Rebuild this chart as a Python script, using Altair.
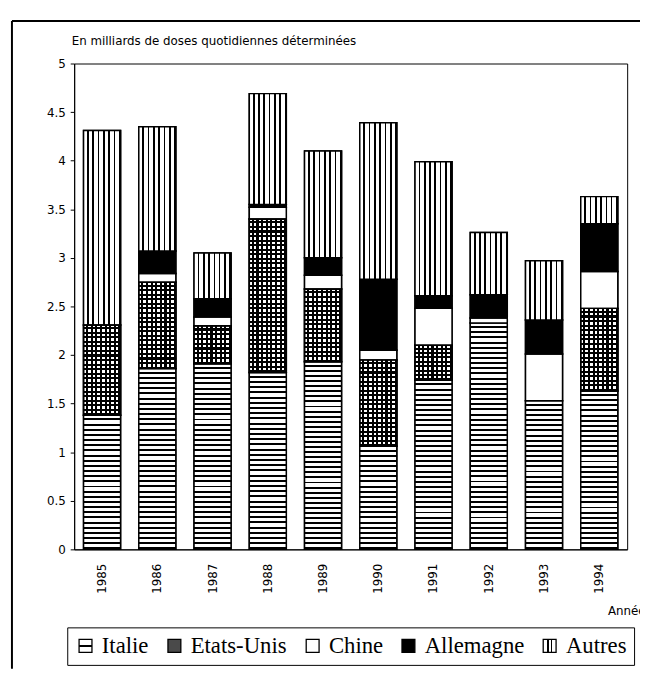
import altair as alt

# ---------------- data ----------------
years = [1985, 1986, 1987, 1988, 1989, 1990, 1991, 1992, 1993, 1994]
series = ["Italie", "Etats-Unis", "Chine", "Allemagne", "Autres"]
italie = [1.38, 1.86, 1.91, 1.82, 1.93, 1.06, 1.74, 2.33, 1.53, 1.63]
etats_unis = [0.93, 0.89, 0.39, 1.58, 0.75, 0.89, 0.36, 0.00, 0.00, 0.85]
chine = [0.00, 0.09, 0.09, 0.12, 0.14, 0.10, 0.38, 0.05, 0.48, 0.38]
allemagne = [0.00, 0.23, 0.19, 0.03, 0.18, 0.73, 0.13, 0.24, 0.35, 0.49]
autres = [2.00, 1.28, 0.47, 1.14, 1.10, 1.61, 1.38, 0.64, 0.61, 0.28]
y_ticks = [0, 0.5, 1, 1.5, 2, 2.5, 3, 3.5, 4, 4.5, 5]

values_by_series = [italie, etats_unis, chine, allemagne, autres]

# ---------------- layout ----------------
W, H = 560, 492
PX_PER_UNIT = H / 5.0


def stripes(n, dark_frac, light, dark, direction):
    stops = []
    for i in range(n):
        a = round(i / n, 5)
        b = round((i + 1 - dark_frac) / n, 5)
        c = round((i + 1) / n, 5)
        stops += [
            {"offset": a, "color": light},
            {"offset": b, "color": light},
            {"offset": b, "color": dark},
            {"offset": c, "color": dark},
        ]
    if direction == "h":  # horizontal lines (gradient runs along y)
        return {"gradient": "linear", "x1": 0.5, "y1": 0, "x2": 0.5, "y2": 1, "stops": stops}
    return {"gradient": "linear", "x1": 0, "y1": 0.5, "x2": 1, "y2": 0.5, "stops": stops}


records = []
for i, yr in enumerate(years):
    base = 0.0
    for s, vals in zip(series, values_by_series):
        v = vals[i]
        if v <= 0:
            continue
        px = v * PX_PER_UNIT
        if s == "Italie":
            g1 = stripes(max(1, round(px / 5.2)), 0.38, "white", "black", "h")
            g2 = "rgba(0,0,0,0)"
        elif s == "Etats-Unis":
            g1 = stripes(8, 0.45, "white", "black", "v")
            g2 = stripes(max(1, round(px / 4.6)), 0.45, "rgba(255,255,255,0)", "black", "h")
        elif s == "Chine":
            g1, g2 = "white", "rgba(0,0,0,0)"
        elif s == "Allemagne":
            g1, g2 = "black", "rgba(0,0,0,0)"
        else:
            g1 = stripes(7, 0.32, "white", "black", "v")
            g2 = "rgba(0,0,0,0)"
        records.append({
            "annee": str(yr), "serie": s, "valeur": v,
            "y0": round(base, 4), "y1": round(base + v, 4),
            "g1": g1, "g2": g2,
        })
        base += v

data = alt.Data(values=records)

legend_range = [
    {"expr": "{gradient: 'linear', x1: 0.5, y1: 0, x2: 0.5, y2: 1, stops: ["
             "{offset: 0, color: 'white'}, {offset: 0.42, color: 'white'}, "
             "{offset: 0.42, color: 'black'}, {offset: 0.58, color: 'black'}, "
             "{offset: 0.58, color: 'white'}, {offset: 1, color: 'white'}]}"},
    "#4a4a4a",
    "white",
    "black",
    {"expr": "{gradient: 'linear', x1: 0, y1: 0.5, x2: 1, y2: 0.5, stops: ["
             "{offset: 0, color: 'white'}, {offset: 0.3, color: 'white'}, "
             "{offset: 0.3, color: 'black'}, {offset: 0.43, color: 'black'}, "
             "{offset: 0.43, color: 'white'}, {offset: 0.57, color: 'white'}, "
             "{offset: 0.57, color: 'black'}, {offset: 0.7, color: 'black'}, "
             "{offset: 0.7, color: 'white'}, {offset: 1, color: 'white'}]}"},
]
fallback_range = ["#c8c8c8", "#4a4a4a", "white", "black", "#9a9a9a"]

x_enc = alt.X(
    "annee:O",
    sort=[str(y) for y in years],
    scale=alt.Scale(paddingInner=0.33, paddingOuter=0.17),
    axis=alt.Axis(
        labelAngle=-90, ticks=False, labelPadding=14, labelFont="DejaVu Sans",
        labelFontSize=12, labelColor="black", domainColor="black",
        title="Années", titleX=540, titleY=62, titleAlign="left",
        titleBaseline="middle", titleFont="DejaVu Sans", titleFontSize=12,
        titleFontWeight="normal", titleColor="black",
    ),
)
y_enc = alt.Y(
    "y0:Q",
    scale=alt.Scale(domain=[0, 5], nice=False),
    axis=alt.Axis(
        values=y_ticks, format="~g", grid=False, tickSize=4, tickColor="black",
        labelPadding=5, labelFont="DejaVu Sans", labelFontSize=12,
        labelColor="black", domainColor="black",
        title="En milliards de doses quotidiennes déterminées", titleAngle=0,
        titleX=-3, titleY=-23, titleAlign="left", titleBaseline="middle",
        titleFont="DejaVu Sans", titleFontSize=12, titleFontWeight="normal",
        titleColor="black",
    ),
)


def build(rng):
    base = alt.Chart(data).mark_bar(stroke="black", strokeWidth=1.5).encode(
        x=x_enc,
        y=y_enc,
        y2="y1:Q",
        fill=alt.Fill(
            "serie:N",
            sort=series,
            scale=alt.Scale(domain=series, range=rng),
            legend=alt.Legend(
                title=None, orient="none", legendX=-7, legendY=571,
                direction="horizontal", strokeColor="black", fillColor="white",
                padding=7, symbolType="square", symbolSize=170,
                symbolStrokeColor="black", symbolStrokeWidth=1.3,
                labelFont="Liberation Serif", labelFontSize=23,
                labelColor="black", columnPadding=14, labelOffset=5,
                labelLimit=300,
            ),
        ),
    )
    tex1 = alt.Chart(data).mark_bar(stroke="black", strokeWidth=1.5).encode(
        x=alt.X("annee:O", sort=[str(y) for y in years]),
        y="y0:Q",
        y2="y1:Q",
        fill=alt.Fill("g1:N", scale=None),
    )
    tex2 = alt.Chart(data).transform_filter(
        alt.datum.serie == "Etats-Unis"
    ).mark_bar(stroke="black", strokeWidth=1.5).encode(
        x=alt.X("annee:O", sort=[str(y) for y in years]),
        y="y0:Q",
        y2="y1:Q",
        fill=alt.Fill("g2:N", scale=None),
    )
    one = alt.Data(values=[{}])
    frame_top = alt.Chart(one).mark_rule(color="black", strokeWidth=2).encode(
        x=alt.value(-63), x2=alt.value(573), y=alt.value(-43)
    )
    frame_left = alt.Chart(one).mark_rule(color="black", strokeWidth=2).encode(
        x=alt.value(-63), y=alt.value(-43), y2=alt.value(613)
    )
    ch = alt.layer(base, tex1, tex2, frame_top, frame_left).properties(
        width=W, height=H,
        autosize=alt.AutoSizeParams(type="none"),
        padding={"left": 67, "top": 52, "right": 13, "bottom": 121},
        background="white",
    ).configure_view(stroke="black", strokeWidth=1)
    return ch


try:
    chart = build(legend_range)
    chart.to_dict()
except Exception:
    chart = build(fallback_range)

chart.save("out.html", embed_options={"renderer": "svg", "actions": False})
